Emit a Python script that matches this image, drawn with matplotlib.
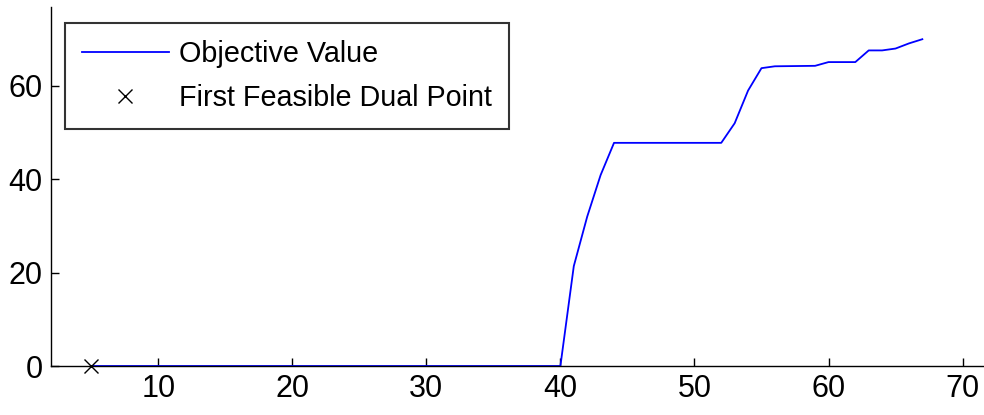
import matplotlib.pyplot as plt

plt.rcParams['font.family'] = ['Liberation Sans', 'DejaVu Sans']

iterations = [5, 40, 41, 42, 43, 44, 52, 53, 54, 55, 56, 59, 60, 62, 63, 64, 65, 66, 67]
objective = [0, 0, 21.4, 32.0, 40.9, 47.8, 47.8, 52.0, 59.0, 63.8, 64.2, 64.3,
             65.1, 65.1, 67.6, 67.6, 68.0, 69.1, 70.0]
first_dual_x = [5]
first_dual_y = [0]

fig = plt.figure(figsize=(9.84, 4.15), dpi=100)
ax = fig.add_axes([51 / 984, 49 / 415, 933 / 984, 359 / 415])

ax.plot(iterations, objective, color='#0000ff', lw=1.3, label='Objective Value')
ax.plot(first_dual_x, first_dual_y, 'x', color='black', ms=10, mew=1.0,
        label='First Feasible Dual Point', clip_on=False, zorder=5)

ax.set_xlim(2, 71.6)
ax.set_ylim(0, 76.9)
ax.set_xticks([10, 20, 30, 40, 50, 60, 70])
ax.set_yticks([0, 20, 40, 60])
ax.tick_params(direction='in', length=6, width=1, labelsize=22, pad=6)
for s in ['top', 'right']:
    ax.spines[s].set_visible(False)
for s in ['left', 'bottom']:
    ax.spines[s].set_linewidth(1)

leg = ax.legend(loc='upper left', bbox_to_anchor=(14 / 933, 1 - 16 / 359),
                fontsize=20.7, frameon=True, fancybox=False, handlelength=3.0,
                borderpad=0.6, labelspacing=0.55, handletextpad=0.35,
                borderaxespad=0)
leg.get_frame().set_edgecolor('black')
leg.get_frame().set_linewidth(1.5)

fig.savefig('out.png', dpi=100)
